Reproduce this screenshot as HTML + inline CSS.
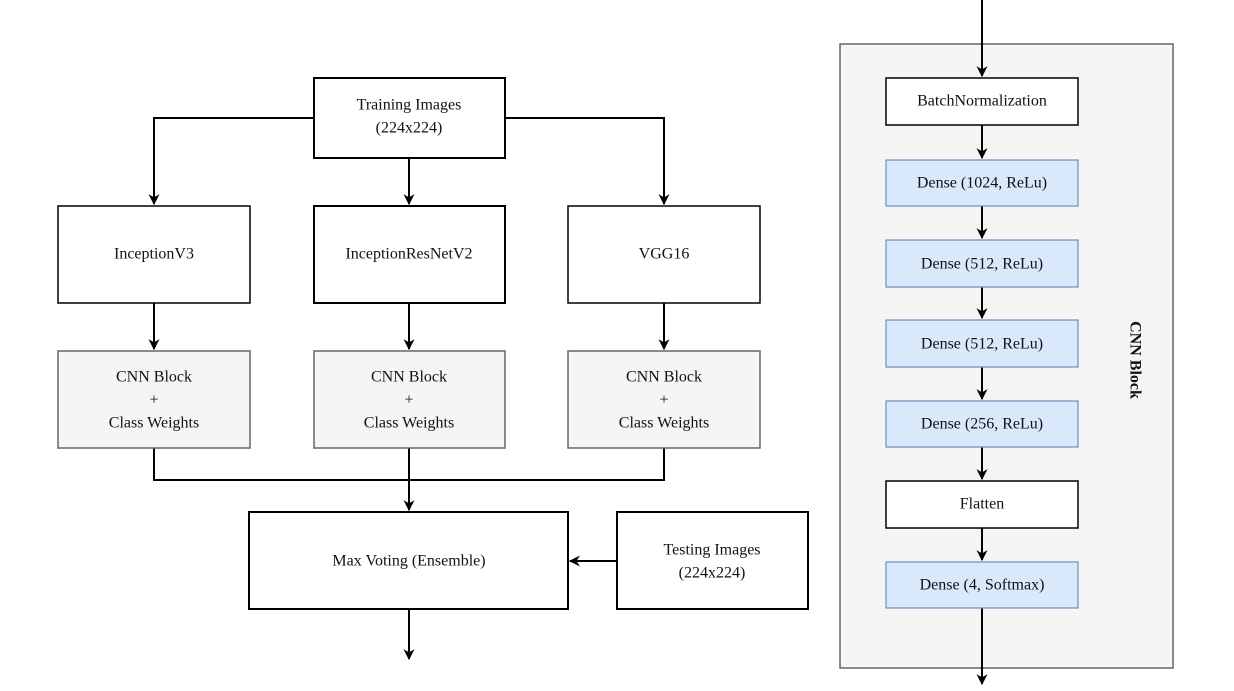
<!DOCTYPE html>
<html><head><meta charset="utf-8"><style>
html,body{margin:0;padding:0;background:#fff;}
svg{display:block;}
text{font-family:"Liberation Serif",serif;font-size:16px;text-anchor:middle;dominant-baseline:central;fill:#111;}
</style></head><body>
<svg width="1234" height="691" viewBox="0 0 1234 691" xmlns="http://www.w3.org/2000/svg">
<defs>
<marker id="a" viewBox="0 0 10 10" refX="9" refY="5" markerWidth="13" markerHeight="11" orient="auto" markerUnits="userSpaceOnUse">
<path d="M0,0 L10,5 L0,10 L3,5 z" fill="#000"/></marker>
</defs>
<g stroke="#000" stroke-width="2" fill="none">
<path d="M314,118 H154 V204" marker-end="url(#a)"/>
<path d="M505,118 H664 V204" marker-end="url(#a)"/>
<path d="M409,158 V204" marker-end="url(#a)"/>
<path d="M154,303 V349" marker-end="url(#a)"/>
<path d="M409,303 V349" marker-end="url(#a)"/>
<path d="M664,303 V349" marker-end="url(#a)"/>
<path d="M154,448 V480 H664 V448"/>
<path d="M409,448 V510" marker-end="url(#a)"/>
<path d="M617,561 H570" marker-end="url(#a)"/>
<path d="M409,609 V659" marker-end="url(#a)"/>
</g>
<g stroke="#000" stroke-width="2" fill="#fff">
<rect x="314" y="78" width="191" height="80"/>
<rect x="58" y="206" width="192" height="97" stroke-width="1.5"/>
<rect x="314" y="206" width="191" height="97"/>
<rect x="568" y="206" width="192" height="97" stroke-width="1.5"/>
<rect x="249" y="512" width="319" height="97"/>
<rect x="617" y="512" width="191" height="97"/>
</g>
<g stroke="#666" stroke-width="1.5" fill="#f5f5f5">
<rect x="58" y="351" width="192" height="97"/>
<rect x="314" y="351" width="191" height="97"/>
<rect x="568" y="351" width="192" height="97"/>
</g>
<text x="409" y="105">Training Images</text><text x="409" y="128">(224x224)</text>
<text x="154" y="254">InceptionV3</text>
<text x="409" y="254">InceptionResNetV2</text>
<text x="664" y="254">VGG16</text>
<g style="fill:#333">
<text x="154" y="377">CNN Block</text><text x="154" y="400">+</text><text x="154" y="423">Class Weights</text>
<text x="409" y="377">CNN Block</text><text x="409" y="400">+</text><text x="409" y="423">Class Weights</text>
<text x="664" y="377">CNN Block</text><text x="664" y="400">+</text><text x="664" y="423">Class Weights</text>
<text x="409" y="561">Max Voting (Ensemble)</text>
<text x="712" y="550">Testing Images</text><text x="712" y="573">(224x224)</text>
</g>
<rect x="840" y="44" width="333" height="624" fill="#f5f5f5" stroke="#666" stroke-width="1.5"/>
<g stroke="#000" stroke-width="2" fill="none">
<path d="M982,0 V76" marker-end="url(#a)"/>
<path d="M982,125 V158" marker-end="url(#a)"/>
<path d="M982,206 V238" marker-end="url(#a)"/>
<path d="M982,287 V318" marker-end="url(#a)"/>
<path d="M982,367 V399" marker-end="url(#a)"/>
<path d="M982,447 V479" marker-end="url(#a)"/>
<path d="M982,528 V560" marker-end="url(#a)"/>
<path d="M982,608 V684" marker-end="url(#a)"/>
</g>
<rect x="886" y="78" width="192" height="47" fill="#fff" stroke="#000" stroke-width="1.5"/>
<rect x="886" y="481" width="192" height="47" fill="#fff" stroke="#000" stroke-width="1.5"/>
<g fill="#dae8fc" stroke="#6c8ebf" stroke-width="1.2">
<rect x="886" y="160" width="192" height="46"/>
<rect x="886" y="240" width="192" height="47"/>
<rect x="886" y="320" width="192" height="47"/>
<rect x="886" y="401" width="192" height="46"/>
<rect x="886" y="562" width="192" height="46"/>
</g>
<text x="982" y="101">BatchNormalization</text>
<text x="982" y="183">Dense (1024, ReLu)</text>
<text x="982" y="264">Dense (512, ReLu)</text>
<text x="982" y="344">Dense (512, ReLu)</text>
<text x="982" y="424">Dense (256, ReLu)</text>
<text x="982" y="504">Flatten</text>
<text x="982" y="585">Dense (4, Softmax)</text>
<text x="1135" y="360" transform="rotate(90 1135 360)" style="font-weight:bold">CNN Block</text>
</svg>
</body></html>
